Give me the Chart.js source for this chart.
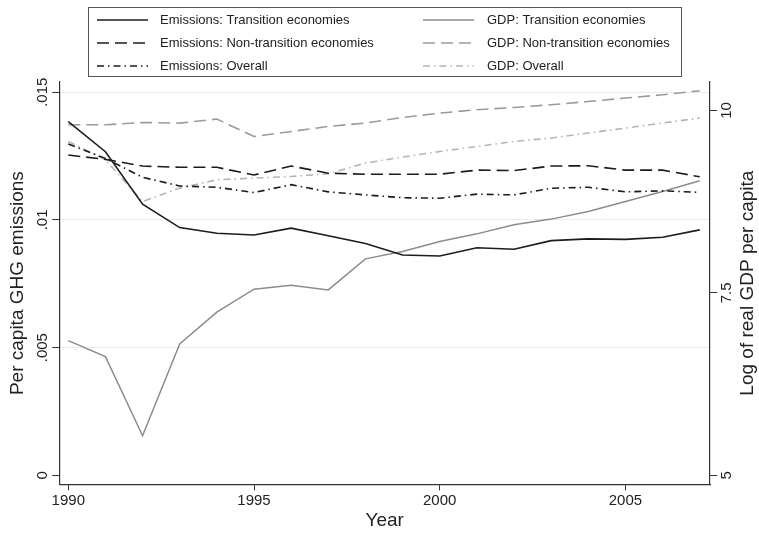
<!DOCTYPE html>
<html>
<head>
<meta charset="utf-8">
<script src="https://cdn.jsdelivr.net/npm/chart.js@4.4.1/dist/chart.umd.min.js"></script>
<style>
  html, body { margin: 0; padding: 0; background: #ffffff; }
  #wrap { width: 759px; height: 534px; }
</style>
</head>
<body>
<div id="wrap"><canvas id="chart" width="759" height="534"></canvas></div>
<script>
// Years on the horizontal axis
const years = [1990, 1991, 1992, 1993, 1994, 1995, 1996, 1997, 1998, 1999,
               2000, 2001, 2002, 2003, 2004, 2005, 2006, 2007];

// Per capita GHG emissions (left axis)
const emisTransition    = [0.01385, 0.01267, 0.01062, 0.00970, 0.00948, 0.00941, 0.00968, 0.00938, 0.00908,
                           0.00863, 0.00859, 0.00891, 0.00885, 0.00919, 0.00926, 0.00924, 0.00932, 0.00961];
const emisNonTransition = [0.01254, 0.01237, 0.01211, 0.01206, 0.01206, 0.01176, 0.01211, 0.01183, 0.01179,
                           0.01179, 0.01179, 0.01195, 0.01193, 0.01211, 0.01212, 0.01195, 0.01195, 0.01169];
const emisOverall       = [0.01297, 0.01241, 0.01167, 0.01133, 0.01128, 0.01107, 0.01138, 0.01110, 0.01098,
                           0.01087, 0.01085, 0.01101, 0.01098, 0.01124, 0.01128, 0.01110, 0.01114, 0.01108];

// Log of real GDP per capita (right axis)
const gdpTransition     = [6.846, 6.626, 5.543, 6.801, 7.235, 7.551, 7.606, 7.541, 7.966,
                           8.066, 8.204, 8.309, 8.433, 8.511, 8.615, 8.752, 8.889, 9.036];
const gdpNonTransition  = [9.804, 9.804, 9.835, 9.827, 9.882, 9.643, 9.712, 9.781, 9.827,
                           9.904, 9.964, 10.010, 10.041, 10.078, 10.123, 10.170, 10.215, 10.270];
const gdpOverall        = [9.575, 9.324, 8.752, 8.936, 9.050, 9.073, 9.095, 9.132, 9.279,
                           9.361, 9.438, 9.506, 9.575, 9.622, 9.690, 9.759, 9.827, 9.896];

// Tick positions and their printed labels
const xTickValues     = [1990, 1995, 2000, 2005];
const leftTickValues  = [0, 0.005, 0.01, 0.015];
const leftTickLabels  = ['0', '.005', '.01', '.015'];
const rightTickValues = [5, 7.5, 10];
const rightTickLabels = ['5', '7.5', '10'];

const FONT = '"Liberation Sans", Arial, Helvetica, sans-serif';
const AXIS_COLOR = '#333333';

function points(values) {
  return years.map((yr, i) => ({ x: yr, y: values[i] }));
}

function series(label, values, axis, color, dash, width) {
  return {
    label: label,
    data: points(values),
    yAxisID: axis,
    borderColor: color,
    borderWidth: width,
    borderDash: dash,
    pointRadius: 0,
    fill: false,
    tension: 0
  };
}

const DASH = [12, 6];
const DASH_DOT = [7, 4, 1.5, 4];

const datasets = [
  series('Emissions: Transition economies',     emisTransition,    'yE', '#1c1c1c', [],       1.6),
  series('Emissions: Non-transition economies', emisNonTransition, 'yE', '#1c1c1c', DASH,     1.6),
  series('Emissions: Overall',                  emisOverall,       'yE', '#1c1c1c', DASH_DOT, 1.6),
  series('GDP: Transition economies',           gdpTransition,     'yG', '#8c8c8c', [],       1.5),
  series('GDP: Non-transition economies',       gdpNonTransition,  'yG', '#9a9a9a', DASH,     1.6),
  series('GDP: Overall',                        gdpOverall,        'yG', '#b4b4b4', DASH_DOT, 1.6)
];

// Two-column framed legend above the plot region
const boxedLegend = {
  id: 'boxedLegend',
  afterDraw(chart) {
    const ctx = chart.ctx;
    const box = { x: 88.5, y: 7.5, w: 593, h: 69 };
    ctx.save();
    ctx.strokeStyle = '#555555';
    ctx.lineWidth = 1;
    ctx.strokeRect(box.x, box.y, box.w, box.h);
    const cols = [{ lx: 97, tx: 160 }, { lx: 423, tx: 487 }];
    const rows = [20, 43, 66];
    ctx.font = '13px ' + FONT;
    ctx.textBaseline = 'middle';
    ctx.textAlign = 'left';
    chart.data.datasets.forEach((ds, i) => {
      const c = cols[Math.floor(i / 3)];
      const y = rows[i % 3];
      ctx.beginPath();
      ctx.strokeStyle = ds.borderColor;
      ctx.lineWidth = ds.borderWidth;
      ctx.setLineDash(ds.borderDash);
      ctx.moveTo(c.lx, y);
      ctx.lineTo(c.lx + 51, y);
      ctx.stroke();
      ctx.setLineDash([]);
      ctx.fillStyle = '#222222';
      ctx.fillText(ds.label, c.tx, y + 0.5);
    });
    ctx.restore();
  }
};

// Rotated tick labels and vertical axis titles
const sideText = {
  id: 'sideText',
  afterDraw(chart) {
    const ctx = chart.ctx;
    const yl = chart.scales.yE;
    const yr = chart.scales.yG;
    const area = chart.chartArea;
    const rotatedText = (txt, x, y) => {
      ctx.save();
      ctx.translate(x, y);
      ctx.rotate(-Math.PI / 2);
      ctx.fillText(txt, 0, 0);
      ctx.restore();
    };
    ctx.save();
    ctx.fillStyle = '#222222';
    ctx.textAlign = 'center';
    ctx.textBaseline = 'middle';
    ctx.font = '15px ' + FONT;
    leftTickValues.forEach((v, i) => rotatedText(leftTickLabels[i], yl.right - 16, yl.getPixelForValue(v)));
    rightTickValues.forEach((v, i) => rotatedText(rightTickLabels[i], yr.left + 17, yr.getPixelForValue(v)));
    ctx.font = '19px ' + FONT;
    const midY = (area.top + area.bottom) / 2;
    rotatedText('Per capita GHG emissions', 18, midY);
    rotatedText('Log of real GDP per capita', 748, midY);
    ctx.restore();
  }
};

new Chart(document.getElementById('chart'), {
  type: 'line',
  data: { datasets: datasets },
  plugins: [boxedLegend, sideText],
  options: {
    responsive: false,
    animation: false,
    devicePixelRatio: 1,
    layout: { padding: { top: 82, left: 0, right: 0, bottom: 0 } },
    plugins: { legend: { display: false }, tooltip: { enabled: false } },
    scales: {
      x: {
        type: 'linear',
        position: 'bottom',
        min: 1989.758,
        max: 2007.277,
        afterBuildTicks: (s) => { s.ticks = xTickValues.map(v => ({ value: v })); },
        afterFit: (s) => { s.height = 49.7; },
        grid: { drawOnChartArea: false, drawTicks: true, tickLength: 6, tickColor: AXIS_COLOR, tickWidth: 1 },
        border: { display: true, color: AXIS_COLOR, width: 1.2 },
        ticks: {
          color: '#222222',
          font: { family: FONT, size: 15 },
          padding: 2,
          maxRotation: 0,
          minRotation: 0,
          callback: (v) => String(v)
        },
        title: {
          display: true,
          text: 'Year',
          color: '#222222',
          font: { family: FONT, size: 19 },
          padding: { top: 0, bottom: 2 }
        }
      },
      yE: {
        type: 'linear',
        position: 'left',
        min: -0.00035,
        max: 0.0154,
        afterBuildTicks: (s) => { s.ticks = leftTickValues.map(v => ({ value: v })); },
        afterFit: (s) => { s.width = 59.3; },
        grid: {
          drawOnChartArea: true,
          color: (c) => (c.tick && c.tick.value === 0 ? 'rgba(0,0,0,0)' : '#ececec'),
          lineWidth: 1,
          drawTicks: true,
          tickLength: 7,
          tickColor: AXIS_COLOR,
          tickWidth: 1
        },
        border: { display: true, color: AXIS_COLOR, width: 1.2 },
        ticks: { display: false }
      },
      yG: {
        type: 'linear',
        position: 'right',
        min: 4.877,
        max: 10.39,
        afterBuildTicks: (s) => { s.ticks = rightTickValues.map(v => ({ value: v })); },
        afterFit: (s) => { s.width = 49; },
        grid: { drawOnChartArea: false, drawTicks: true, tickLength: 7, tickColor: AXIS_COLOR, tickWidth: 1 },
        border: { display: true, color: AXIS_COLOR, width: 1.2 },
        ticks: { display: false }
      }
    }
  }
});
</script>
</body>
</html>
